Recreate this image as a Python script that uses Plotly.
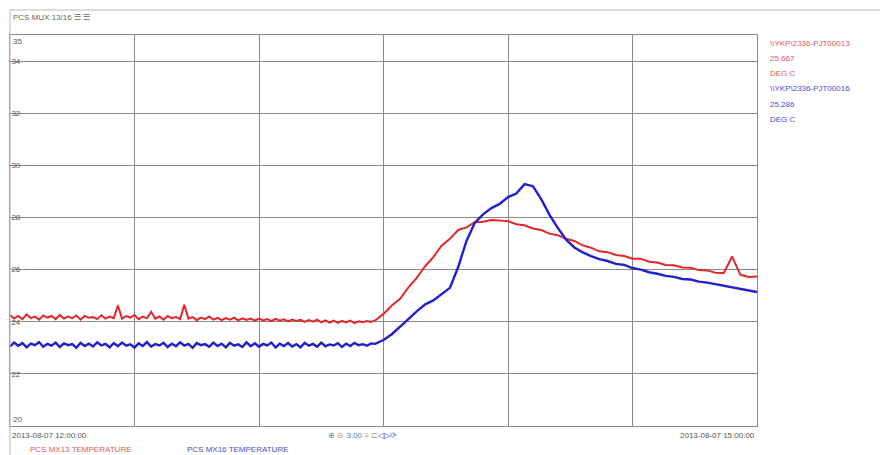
import pandas as pd
import plotly.graph_objects as go

# ---- data ----
start_time = "2013-08-07 12:00:00"
# minutes after 12:00 of each reading: every minute on the flat part, then every 2 minutes
minute_offsets = list(range(0, 88)) + list(range(88, 181, 2))

mx13_temp = [
    24.26, 24.12, 24.22, 24.10, 24.28, 24.14, 24.20, 24.08, 24.24, 24.16,
    24.22, 24.10, 24.26, 24.12, 24.20, 24.14, 24.24, 24.08, 24.22, 24.15,
    24.18, 24.10, 24.25, 24.12, 24.20, 24.14, 24.62, 24.12, 24.22, 24.16,
    24.26, 24.10, 24.20, 24.13, 24.38, 24.12, 24.20, 24.08, 24.22, 24.14,
    24.18, 24.10, 24.65, 24.12, 24.18, 24.06, 24.16, 24.10, 24.20, 24.08,
    24.15, 24.06, 24.14, 24.08, 24.16, 24.05, 24.13, 24.07, 24.12, 24.04,
    24.12, 24.05, 24.10, 24.02, 24.11, 24.04, 24.09, 24.01, 24.08, 24.03,
    24.07, 23.99, 24.06, 24.00, 24.08, 23.98, 24.05, 23.97, 24.04, 23.96,
    24.03, 23.97, 24.04, 23.95, 24.02, 23.98, 24.03, 23.99,
    24.05,
    24.30, 24.62, 24.88, 25.32, 25.68, 26.12, 26.48, 26.92, 27.18, 27.52,
    27.62, 27.82, 27.84, 27.90, 27.88, 27.86, 27.74, 27.70, 27.58, 27.52,
    27.38, 27.32, 27.18, 27.10, 26.93, 26.84, 26.70, 26.67, 26.56, 26.52,
    26.42, 26.42, 26.30, 26.27, 26.18, 26.17, 26.08, 26.07, 25.98, 25.97,
    25.88, 25.87, 26.50, 25.80, 25.72, 25.74,
]

mx16_temp = [
    23.05, 23.20, 23.08, 23.18, 23.02, 23.16, 23.10, 23.22, 23.04, 23.15,
    23.08, 23.20, 23.03, 23.17, 23.10, 23.14, 23.00, 23.19, 23.07, 23.16,
    23.05, 23.21, 23.09, 23.15, 23.02, 23.18, 23.06, 23.20, 23.08, 23.13,
    23.01, 23.17, 23.07, 23.22, 23.05, 23.14, 23.09, 23.19, 23.03, 23.16,
    23.06, 23.21, 23.08, 23.15, 23.00, 23.18, 23.10, 23.14, 23.04, 23.20,
    23.07, 23.16, 23.02, 23.19, 23.08, 23.13, 23.03, 23.21, 23.06, 23.17,
    23.04, 23.15, 23.09, 23.20, 23.01, 23.16, 23.07, 23.18, 23.05, 23.14,
    23.02, 23.19, 23.08, 23.15, 23.04, 23.20, 23.06, 23.13, 23.09, 23.18,
    23.03, 23.16, 23.07, 23.19, 23.10, 23.14, 23.08, 23.17,
    23.15,
    23.30, 23.52, 23.80, 24.10, 24.40, 24.66, 24.82, 25.06, 25.30, 26.10,
    27.10, 27.80, 28.12, 28.36, 28.52, 28.78, 28.92, 29.28, 29.20, 28.70,
    28.10, 27.60, 27.15, 26.85, 26.66, 26.52, 26.40, 26.33, 26.22, 26.18,
    26.06, 26.00, 25.90, 25.84, 25.76, 25.72, 25.64, 25.62, 25.54, 25.50,
    25.44, 25.38, 25.34, 25.26, 25.20, 25.14,
]

y_grid_values = [22, 24, 26, 28, 30, 32, 34]
y_edge_labels = [35, 20]

series_names = ["PCS MX13 TEMPERATURE", "PCS MX16 TEMPERATURE"]
series_tags = ["\\\\YKP\\2336-PJT00013", "\\\\YKP\\2336-PJT00016"]
series_readings = ["25.667", "25.286"]
units = "DEG C"
title_text = "PCS MUX 13/16 ☰ ☰"
x_start_label = "2013-08-07 12:00:00"
x_end_label = "2013-08-07 15:00:00"

# ---------------------------------------------------------------------------
t0 = pd.Timestamp(start_time)
times = [t0 + pd.Timedelta(minutes=m) for m in minute_offsets]
t_end = t0 + pd.Timedelta(minutes=180)

RED = "#e3262a"
BLUE = "#2020cc"
RED_TXT = "#e05a5a"
BLUE_TXT = "#4a4ad0"
GRID = "#8a8a8a"
FONT = "Liberation Sans, Arial, sans-serif"

# The page body has an 8px margin, so the figure is 8px smaller each way.
W, H = 880, 447
ML, MR, MT, MB = 2, 131, 27, 29
PW, PH = W - ML - MR, H - MT - MB


def px(xpix):  # page pixel -> paper x
    return (xpix - 8 - ML) / PW


def py(ypix):  # page pixel -> paper y
    return (H - MB - (ypix - 8)) / PH


fig = go.Figure()
fig.add_trace(go.Scatter(x=times, y=mx13_temp, mode="lines", name=series_names[0],
                         line=dict(color=RED, width=2), showlegend=False))
fig.add_trace(go.Scatter(x=times, y=mx16_temp, mode="lines", name=series_names[1],
                         line=dict(color=BLUE, width=2.4), showlegend=False))

fig.update_layout(
    width=W, height=H,
    margin=dict(l=ML, r=MR, t=MT, b=MB),
    paper_bgcolor="white", plot_bgcolor="white",
    font=dict(family=FONT, size=8, color="#555555"),
    xaxis=dict(
        range=[t0, t_end],
        tick0=t0, dtick=30 * 60 * 1000,
        showgrid=True, gridcolor=GRID, gridwidth=1,
        showticklabels=False, ticks="",
        showline=True, linecolor=GRID, linewidth=1, mirror=True,
        zeroline=False,
    ),
    yaxis=dict(
        range=[20, 35],
        tickmode="array", tickvals=y_grid_values,
        ticktext=[str(v) for v in y_grid_values],
        ticklabelposition="inside", ticks="",
        showgrid=True, gridcolor=GRID, gridwidth=1,
        showline=True, linecolor=GRID, linewidth=1, mirror=True,
        zeroline=False,
        tickfont=dict(size=8, color="#555555"),
    ),
)

# outer frame (title bar)
fig.add_shape(type="line", xref="paper", yref="paper", x0=px(10), x1=px(890), y0=py(10), y1=py(10),
              line=dict(color="#bbbbbb", width=1))
fig.add_shape(type="line", xref="paper", yref="paper", x0=px(10), x1=px(10), y0=py(455), y1=py(10),
              line=dict(color="#bbbbbb", width=1))

ann = []
ann.append(dict(text=title_text, x=px(11), y=py(17), xref="paper", yref="paper",
                xanchor="left", yanchor="middle", showarrow=False,
                font=dict(size=8, color="#666666")))
ann.append(dict(text=str(y_edge_labels[0]), x=px(11), y=35, xref="paper", yref="y",
                xanchor="left", yanchor="top", showarrow=False,
                font=dict(size=8, color="#555555")))
ann.append(dict(text=str(y_edge_labels[1]), x=px(11), y=20, xref="paper", yref="y",
                xanchor="left", yanchor="bottom", showarrow=False,
                font=dict(size=8, color="#555555")))
ann.append(dict(text=x_start_label, x=px(10), y=py(435), xref="paper", yref="paper",
                xanchor="left", yanchor="middle", showarrow=False,
                font=dict(size=8, color="#555555")))
ann.append(dict(text=x_end_label, x=px(757), y=py(435), xref="paper", yref="paper",
                xanchor="right", yanchor="middle", showarrow=False,
                font=dict(size=8, color="#555555")))
ann.append(dict(text="<span style='color:#5577cc'>⊕</span> <span style='color:#cc9933'>⊖</span> 3.00 "
                     "<span style='color:#aaaaaa'>≡ ⊏</span><span style='color:#3355cc'>◁▷</span>"
                     "<span style='color:#5577cc'>⟳</span>",
                x=px(326), y=py(435), xref="paper", yref="paper",
                xanchor="left", yanchor="middle", showarrow=False,
                font=dict(size=8, color="#5577cc")))
ann.append(dict(text=series_names[0], x=px(28), y=py(449), xref="paper", yref="paper",
                xanchor="left", yanchor="middle", showarrow=False,
                font=dict(size=8, color=RED_TXT)))
ann.append(dict(text=series_names[1], x=px(185), y=py(449), xref="paper", yref="paper",
                xanchor="left", yanchor="middle", showarrow=False,
                font=dict(size=8, color=BLUE_TXT)))

right_lines = [
    (series_tags[0], RED_TXT, 43), (series_readings[0], RED_TXT, 58), (units, RED_TXT, 73),
    (series_tags[1], BLUE_TXT, 88), (series_readings[1], BLUE_TXT, 104), (units, BLUE_TXT, 119),
]
for txt, col, ypix in right_lines:
    ann.append(dict(text=txt, x=px(768), y=py(ypix), xref="paper", yref="paper",
                    xanchor="left", yanchor="middle", showarrow=False,
                    font=dict(size=8, color=col)))

fig.update_layout(annotations=ann)
fig.write_html("out.html")
